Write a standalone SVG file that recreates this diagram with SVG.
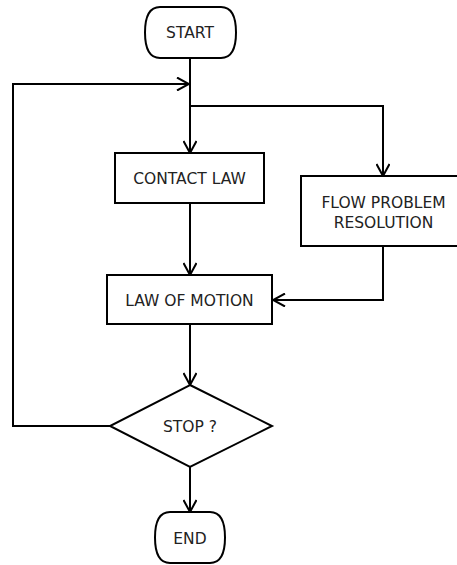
<svg xmlns="http://www.w3.org/2000/svg" width="457" height="565" viewBox="0 0 457 565">
<style>
.shape{fill:#fff;stroke:#000;stroke-width:2}
.line{fill:none;stroke:#000;stroke-width:2}
text{font-family:"DejaVu Sans",Verdana,sans-serif;font-size:15.5px;fill:#222;text-anchor:middle}
</style>
<defs>
<marker id="arr" viewBox="0 0 14 14" refX="13" refY="7" markerWidth="14" markerHeight="14" markerUnits="userSpaceOnUse" orient="auto">
<path d="M1,0.5 L13,7 L1,13.5" fill="none" stroke="#000" stroke-width="2"/>
</marker>
</defs>
<g id="connectors">
<path class="line" d="M190,58 V153" marker-end="url(#arr)"/>
<path class="line" d="M190,106 H383 V176" marker-end="url(#arr)"/>
<path class="line" d="M190,203 V275" marker-end="url(#arr)"/>
<path class="line" d="M383,246 V300 H273" marker-end="url(#arr)"/>
<path class="line" d="M190,324 V385" marker-end="url(#arr)"/>
<path class="line" d="M190,467 V512" marker-end="url(#arr)"/>
<path class="line" d="M110,426 H13 V84 H189" marker-end="url(#arr)"/>
</g>
<g id="start">
<path class="shape" d="M160,7 H221 C232,7 236,18 236,32.5 C236,47 232,58 221,58 H160 C149,58 145,47 145,32.5 C145,18 149,7 160,7 Z"/>
<text x="190" y="38">START</text>
</g>
<g id="contact-law">
<rect class="shape" x="115" y="153" width="149" height="50"/>
<text x="189.5" y="184">CONTACT LAW</text>
</g>
<g id="flow-problem">
<rect class="shape" x="301" y="176" width="166" height="70"/>
<text x="383.5" y="207.5">FLOW PROBLEM</text>
<text x="383.5" y="227.5">RESOLUTION</text>
</g>
<g id="law-of-motion">
<rect class="shape" x="107" y="275" width="165" height="49"/>
<text x="189.5" y="306">LAW OF MOTION</text>
</g>
<g id="stop">
<path class="shape" d="M190,385 L272,426 L190,467 L110,426 Z"/>
<text x="190" y="432">STOP ?</text>
</g>
<g id="end">
<path class="shape" d="M170,512 H210 C221,512 225,523 225,537.5 C225,552 221,563 210,563 H170 C159,563 155,552 155,537.5 C155,523 159,512 170,512 Z"/>
<text x="190" y="544">END</text>
</g>
</svg>
